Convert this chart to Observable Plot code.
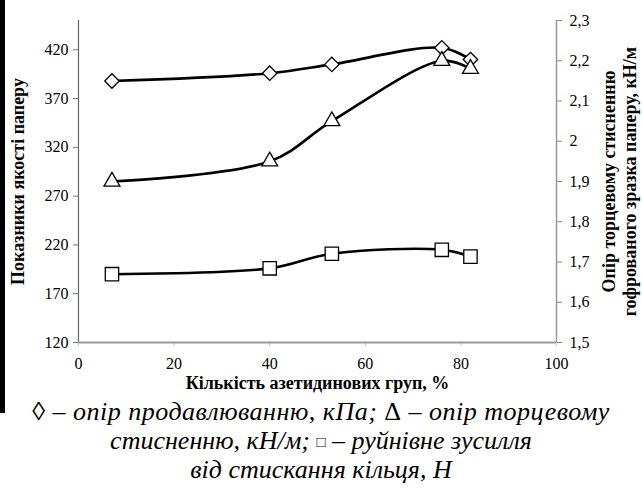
<!DOCTYPE html>
<html>
<head>
<meta charset="utf-8">
<script src="https://cdn.jsdelivr.net/npm/d3@7"></script>
<script src="https://cdn.jsdelivr.net/npm/@observablehq/plot@0.6"></script>
<style>
  body { margin: 0; background: #fff; }
  #wrap { position: relative; width: 642px; height: 497px; font-family: "Liberation Serif", "Times New Roman", serif; }
  #bar { position: absolute; left: 0; top: 0; width: 5px; height: 413px; background: #000; }
  #chart { position: absolute; left: 0; top: 0; }
  #caption { position: absolute; left: 0; top: 398px; width: 642px; text-align: center;
             font-style: italic; font-size: 26px; line-height: 28.5px; color: #000; white-space: nowrap; }
  #caption .first { letter-spacing: 0.5px; }
  #caption .sym { font-style: normal; }
  #caption .box { font-style: normal; font-size: 15px; vertical-align: 2px; }
</style>
</head>
<body>
<div id="wrap">
  <div id="bar"></div>
  <div id="chart"></div>
  <div id="caption"><span class="first"><span class="sym">◊</span> – опір продавлюванню, кПа; <span class="sym">Δ</span> – опір торцевому</span><br>стисненню, кН/м; <span class="box">□</span> – руйнівне зусилля<br>від стискання кільця, Н</div>
</div>
<script>
// Share of azetidine groups, %
const azetidine = [7, 40, 53, 76, 82];
// Burst strength, kPa (left axis)
const burstStrength = [388, 396, 405, 422, 410];
// Edge crush resistance of corrugated sample, kN/m (right axis)
const edgeCrush = [1.90, 1.95, 2.05, 2.20, 2.18];
// Ring crush force, N (left axis)
const ringCrush = [190, 196, 211, 215, 208];

const xTicks = [0, 20, 40, 60, 80, 100];
const leftTicks = [120, 170, 220, 270, 320, 370, 420];
const rightTicks = [1.5, 1.6, 1.7, 1.8, 1.9, 2.0, 2.1, 2.2, 2.3];

const leftDomain = [120, 450];
const rightDomain = [1.5, 2.3];

// map right-axis values onto the left-axis scale and back
const toLeft = v => leftDomain[0] + (v - rightDomain[0]) / (rightDomain[1] - rightDomain[0]) * (leftDomain[1] - leftDomain[0]);
const toRight = v => rightDomain[0] + (v - leftDomain[0]) / (leftDomain[1] - leftDomain[0]) * (rightDomain[1] - rightDomain[0]);
const commaFmt = v => String(Number(v.toFixed(1))).replace(".", ",");

const rows = azetidine.map((x, i) => ({
  x,
  burst: burstStrength[i],
  edge: toLeft(edgeCrush[i]),
  ring: ringCrush[i]
}));

const lineStyle = {x: "x", curve: "catmull-rom", stroke: "#000", strokeWidth: 2.6};
const dotStyle = {x: "x", fill: "#fff", stroke: "#000", strokeWidth: 1.3};
const serif = "Liberation Serif, Times New Roman, serif";

const chart = Plot.plot({
  width: 642,
  height: 395,
  marginLeft: 78,
  marginRight: 86,
  marginTop: 20,
  marginBottom: 53,
  x: {domain: [0, 100]},
  y: {domain: leftDomain},
  style: {fontFamily: serif, fontSize: "16px", color: "#000", background: "transparent"},
  marks: [
    Plot.axisX(xTicks, {tickSize: 4, tickPadding: 11, stroke: "#c8c8c8", label: null, fontSize: 16}),
    Plot.axisY(leftTicks, {anchor: "left", tickSize: 5, tickPadding: 5, stroke: "#777", label: null, fontSize: 16}),
    Plot.axisY(rightTicks.map(toLeft), {anchor: "right", tickSize: 5, tickPadding: 8, stroke: "#888", label: null, fontSize: 16,
      tickFormat: d => commaFmt(toRight(d))}),
    Plot.ruleX([0], {stroke: "#666", strokeWidth: 1.2}),
    Plot.ruleX([100], {stroke: "#999", strokeWidth: 1.5}),
    Plot.ruleY([leftDomain[0]], {stroke: "#999", strokeWidth: 2}),
    Plot.line(rows, {...lineStyle, y: "burst"}),
    Plot.line(rows, {...lineStyle, y: "edge"}),
    Plot.line(rows, {...lineStyle, y: "ring"}),
    Plot.dot(rows, {...dotStyle, y: "burst", symbol: "diamond2", r: 6.5}),
    Plot.dot(rows, {...dotStyle, y: "edge", symbol: "triangle2", r: 7.6}),
    Plot.dot(rows, {...dotStyle, y: "ring", symbol: "square2", r: 8.5}),
    Plot.text(["Кількість азетидинових груп, %"], {frameAnchor: "bottom", dy: 41, lineAnchor: "middle",
      fontWeight: "bold", fontSize: 18, fill: "#000"}),
    Plot.text(["Показники якості паперу"], {frameAnchor: "left", dx: -60, rotate: -90, textAnchor: "middle",
      lineAnchor: "middle", fontWeight: "bold", fontSize: 18, fill: "#000"}),
    Plot.text(["Опір торцевому стисненню\nгофрованого зразка паперу, кН/м"], {frameAnchor: "right", dx: 62, rotate: -90,
      textAnchor: "middle", lineAnchor: "middle", fontWeight: "bold", fontSize: 18, lineHeight: 1.2, fill: "#000"})
  ]
});
document.getElementById("chart").appendChild(chart);
</script>
</body>
</html>
